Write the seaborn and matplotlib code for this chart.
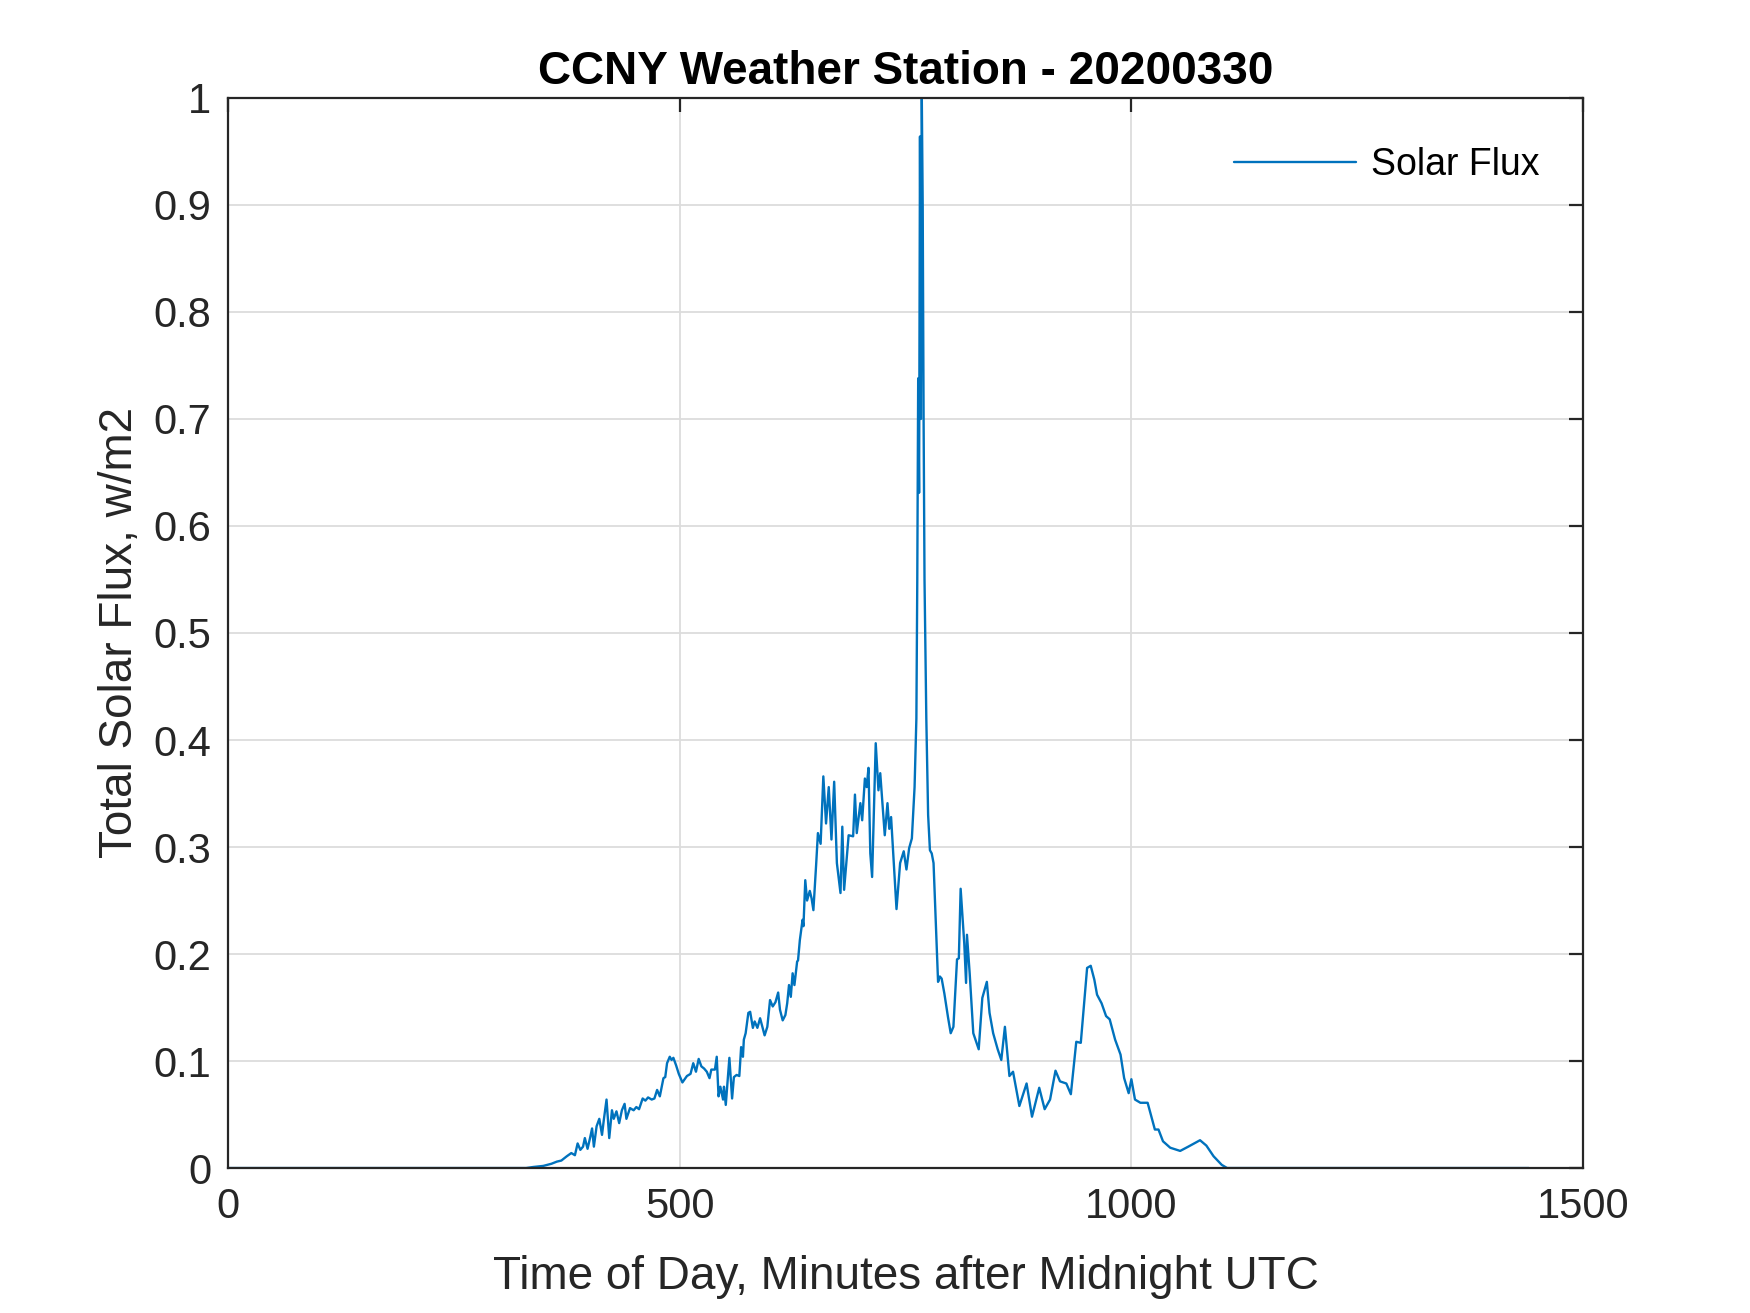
import numpy as np
import pandas as pd
import matplotlib
matplotlib.use("Agg")
import matplotlib.pyplot as plt
from matplotlib.ticker import FormatStrFormatter
import seaborn as sns

# Minutes after midnight UTC and total solar flux
minutes = [
    0, 330, 338, 349, 358, 364, 369, 375, 380, 384, 387, 390, 393, 395, 398,
    401, 403, 405, 408, 411, 414, 416, 419, 422, 425, 427, 430, 433, 436, 439,
    441, 445, 449, 452, 455, 459, 462, 465, 469, 472, 475, 478, 482, 484, 486,
    489, 491, 493, 496, 499, 503, 508, 512, 515, 518, 521, 524, 527, 530, 533,
    535, 539, 541, 543, 545, 548, 549, 551, 555, 558, 560, 563, 566, 568, 570,
    571, 573, 576, 578, 581, 583, 586, 589, 594, 597, 600, 603, 606, 609, 611,
    614, 617, 619, 621, 623, 625, 627, 630, 631, 633, 636, 637, 639, 641, 644,
    646, 648, 651, 653, 656, 659, 662, 665, 668, 671, 674, 678, 680, 682, 685,
    687, 692, 694, 696, 700, 702, 705, 707, 709, 711, 713, 717, 720, 722, 727,
    730, 732, 734, 740, 744, 748, 751, 754, 757, 760, 762, 763, 764, 765, 766,
    767, 768, 769, 770, 771, 773, 775, 777, 779, 781, 786, 788, 790, 793, 797,
    800, 803, 807, 809, 811, 815, 817, 818, 821, 825, 831, 835, 840, 843, 847,
    852, 856, 860, 865, 869, 876, 884, 890, 898, 904, 910, 916, 921, 928, 933,
    939, 944, 951, 955, 959, 962, 967, 972, 976, 982, 988, 992, 997, 1000, 1004,
    1010, 1018, 1026, 1030, 1035, 1043, 1054, 1063, 1076, 1083, 1091, 1100, 1106, 1440,
]
flux = [
    0, 0, 0.001, 0.002, 0.004, 0.006, 0.007, 0.011, 0.014, 0.012, 0.023, 0.017, 0.020, 0.028, 0.018,
    0.029, 0.037, 0.020, 0.039, 0.046, 0.031, 0.045, 0.064, 0.028, 0.054, 0.046, 0.053, 0.042, 0.054, 0.060,
    0.046, 0.056, 0.054, 0.057, 0.055, 0.065, 0.063, 0.066, 0.064, 0.065, 0.073, 0.067, 0.084, 0.085, 0.098,
    0.104, 0.101, 0.103, 0.096, 0.088, 0.080, 0.086, 0.088, 0.098, 0.090, 0.102, 0.095, 0.093, 0.090, 0.084,
    0.092, 0.092, 0.104, 0.067, 0.076, 0.064, 0.076, 0.059, 0.103, 0.065, 0.085, 0.087, 0.086, 0.113, 0.104,
    0.120, 0.126, 0.145, 0.146, 0.131, 0.137, 0.131, 0.140, 0.124, 0.132, 0.157, 0.151, 0.155, 0.164, 0.148,
    0.138, 0.143, 0.154, 0.171, 0.160, 0.182, 0.171, 0.193, 0.194, 0.213, 0.232, 0.226, 0.269, 0.250, 0.259,
    0.252, 0.241, 0.283, 0.313, 0.303, 0.366, 0.322, 0.356, 0.307, 0.361, 0.285, 0.257, 0.319, 0.260, 0.291,
    0.311, 0.310, 0.349, 0.313, 0.341, 0.325, 0.364, 0.356, 0.374, 0.294, 0.272, 0.397, 0.353, 0.369, 0.311,
    0.341, 0.317, 0.328, 0.242, 0.285, 0.296, 0.279, 0.299, 0.308, 0.356, 0.420, 0.550, 0.738, 0.631, 0.964,
    0.700, 1.000, 0.900, 0.700, 0.550, 0.420, 0.330, 0.297, 0.294, 0.285, 0.174, 0.179, 0.177, 0.163, 0.141,
    0.126, 0.132, 0.195, 0.196, 0.261, 0.210, 0.173, 0.218, 0.182, 0.126, 0.111, 0.159, 0.174, 0.145, 0.126,
    0.111, 0.101, 0.132, 0.086, 0.090, 0.058, 0.079, 0.048, 0.075, 0.055, 0.064, 0.091, 0.081, 0.079, 0.069,
    0.118, 0.117, 0.187, 0.189, 0.176, 0.162, 0.154, 0.142, 0.139, 0.120, 0.106, 0.084, 0.070, 0.083, 0.064,
    0.061, 0.061, 0.036, 0.036, 0.025, 0.019, 0.016, 0.020, 0.026, 0.021, 0.011, 0.003, 0, 0,
]

x_ticks = [0, 500, 1000, 1500]
y_ticks = np.round(np.arange(0, 1.01, 0.1), 1)

df = pd.DataFrame({"minutes": minutes, "flux": flux})

sns.set_theme(style="white")
plt.rcParams["font.family"] = ["Liberation Sans", "DejaVu Sans"]

ink = "#262626"
fig = plt.figure(figsize=(17.5, 13.13), dpi=100)
ax = fig.add_axes([0.1303, 0.1104, 0.7743, 0.815])

sns.lineplot(data=df, x="minutes", y="flux", ax=ax, color="#0072BD",
             linewidth=1.7, label="Solar Flux")

ax.set_xlim(0, 1500)
ax.set_ylim(0, 1)
ax.set_xticks(x_ticks)
ax.set_yticks(y_ticks)
ax.yaxis.set_major_formatter(FormatStrFormatter("%g"))

ax.grid(True, color="#dcdcdc", linewidth=1.3)
ax.set_axisbelow(True)
for s in ax.spines.values():
    s.set_color(ink)
    s.set_linewidth(1.6)

ax.tick_params(axis="both", which="major", direction="in", length=10, width=1.6,
               color=ink, labelcolor=ink, labelsize=30,
               top=True, right=True)
ax.tick_params(axis="x", pad=14)
ax.tick_params(axis="y", pad=12)

ax.set_xlabel("Time of Day, Minutes after Midnight UTC", fontsize=33, color=ink, labelpad=20)
ax.set_ylabel("Total Solar Flux, w/m2", fontsize=33, color=ink, labelpad=8)
ax.set_title("CCNY Weather Station - 20200330", fontsize=33, fontweight="bold",
             color="black", pad=10)

leg = ax.legend(loc="upper right", bbox_to_anchor=(1.004, 1.0), frameon=False,
                fontsize=27, handlelength=3.25, handletextpad=0.4,
                borderpad=0.5, borderaxespad=0.8)
for t in leg.get_texts():
    t.set_color("black")

fig.savefig("out.png", dpi=100, facecolor="white")
